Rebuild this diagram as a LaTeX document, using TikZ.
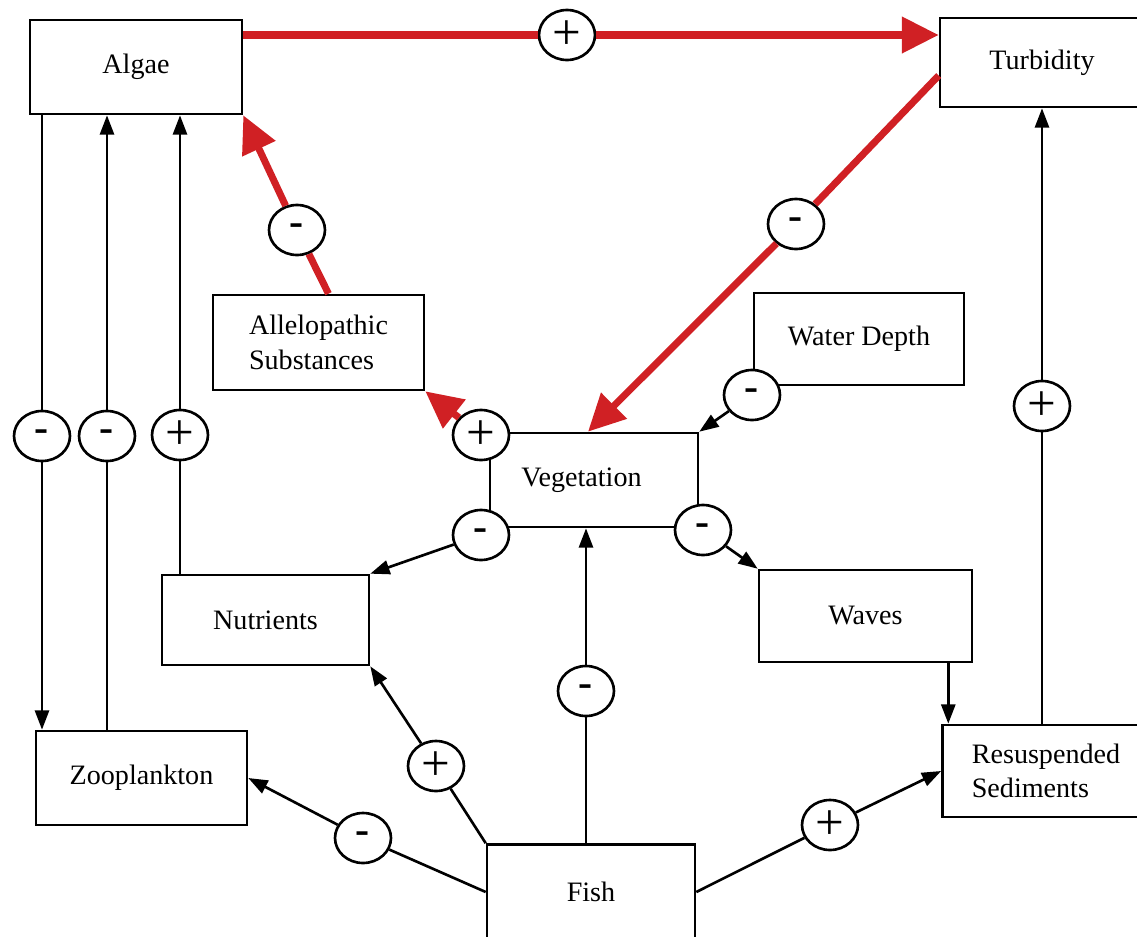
\documentclass[tikz,border=0pt]{standalone}
\usepackage{fontspec}
\setmainfont{Liberation Serif}
\usetikzlibrary{arrows.meta,shapes.geometric,calc}
\definecolor{arrred}{RGB}{208,32,36}
\begin{document}
\begin{tikzpicture}[x=0.02cm,y=-0.02cm,
  box/.style={draw,line width=1.5pt,inner sep=0pt,font=\fontsize{16}{19.5}\selectfont},
  sign/.style={ellipse,draw,line width=1.5pt,fill=white,minimum width=1.12cm,minimum height=1.0cm,inner sep=0pt},
  plussign/.style={sign,font=\fontsize{29}{29}\selectfont},
  minussign/.style={sign,font=\fontsize{24}{24}\bfseries},
  link/.style={line width=1.5pt},
  arr/.style={link,-{Triangle[length=11pt,width=8pt]}},
  redlink/.style={line width=4pt,color=arrred},
  redarr/.style={redlink,-{Triangle[length=21pt,width=20pt]}},
]
\useasboundingbox (0,0) rectangle (1137,937);
% boxes
\node[box,minimum width=4.24cm,minimum height=1.88cm] (algae) at (136,67) {Algae};
\node[box,minimum width=4.08cm,minimum height=1.78cm] (turb) at (1042,62.5) {Turbidity};
\node[box,minimum width=4.22cm,minimum height=1.9cm,align=left] (allelo) at (318.5,342.5) {Allelopathic\\Substances};
\node[box,minimum width=4.2cm,minimum height=1.84cm] (wd) at (859,339) {Water Depth};
\node[box,minimum width=4.16cm,minimum height=1.88cm] (veg) at (594,480) {Vegetation\hspace*{0.5cm}};
\node[box,minimum width=4.14cm,minimum height=1.8cm] (nutr) at (265.5,620) {Nutrients};
\node[box,minimum width=4.26cm,minimum height=1.84cm] (waves) at (865.5,616) {Waves};
\node[box,minimum width=4.22cm,minimum height=1.88cm] (zoo) at (141.5,778) {Zooplankton};
\node[box,minimum width=4.14cm,minimum height=1.84cm,align=left] (resusp) at (1046,771) {Resuspended\\Sediments};
\node[box,minimum width=4.16cm,minimum height=1.9cm] (fish) at (591,892) {Fish};
\coordinate (wv) at ($(waves.south east)+(-25,0)$);
% signs
\node[plussign] (c1) at (567,35) {+};
\node[minussign] (c2) at (297,230) {-};
\node[minussign] (c3) at (796,224) {-};
\node[minussign] (c4) at (752,395) {-};
\node[plussign] (c5) at (1042,406) {+};
\node[minussign] (c6) at (42,436) {-};
\node[minussign] (c7) at (107,436) {-};
\node[plussign] (c8) at (180,435) {+};
\node[plussign] (c9) at (481,435) {+};
\node[minussign] (c10) at (481,535) {-};
\node[minussign] (c11) at (703,530) {-};
\node[minussign] (c12) at (586,691) {-};
\node[plussign] (c13) at (436,766) {+};
\node[minussign] (c14) at (363,838) {-};
\node[plussign] (c15) at (830,825) {+};
% red connectors
\draw[redlink] (c1 -| algae.east) -- (c1);
\draw[redarr] (c1) -- (c1 -| turb.west);
\draw[redlink] ($(allelo.north)+(10,0)$) -- (c2);
\draw[redarr] (c2) -- (algae.south east);
\draw[redlink] ($(turb.west)+(0,13)$) -- (c3);
\draw[redarr] (c3) -- ($(veg.north)+(-6,0)$);
\draw[redarr] (c9) -- (allelo.south east);
% black connectors
\draw[arr] (c4) -- (veg.north east);
\draw[link] (c5 |- resusp.north) -- (c5);
\draw[arr] (c5) -- (c5 |- turb.south);
\draw[link] (c6 |- algae.south) -- (c6);
\draw[arr] (c6) -- (c6 |- zoo.north);
\draw[link] (c7 |- zoo.north) -- (c7);
\draw[arr] (c7) -- (c7 |- algae.south);
\draw[link] (c8 |- nutr.north) -- (c8);
\draw[arr] (c8) -- (c8 |- algae.south);
\draw[arr] (c10) -- (nutr.north east);
\draw[arr] (c11) -- (waves.north west);
\draw[arr] (wv) -- (wv |- resusp.north);
\draw[link] (c12 |- fish.north) -- (c12);
\draw[arr] (c12) -- (c12 |- veg.south);
\draw[link] (fish.north west) -- (c13);
\draw[arr] (c13) -- (nutr.south east);
\draw[link] (fish.west) -- (c14);
\draw[arr] (c14) -- (zoo.east);
\draw[link] (fish.east) -- (c15);
\draw[arr] (c15) -- (resusp.west);
\end{tikzpicture}
\end{document}
